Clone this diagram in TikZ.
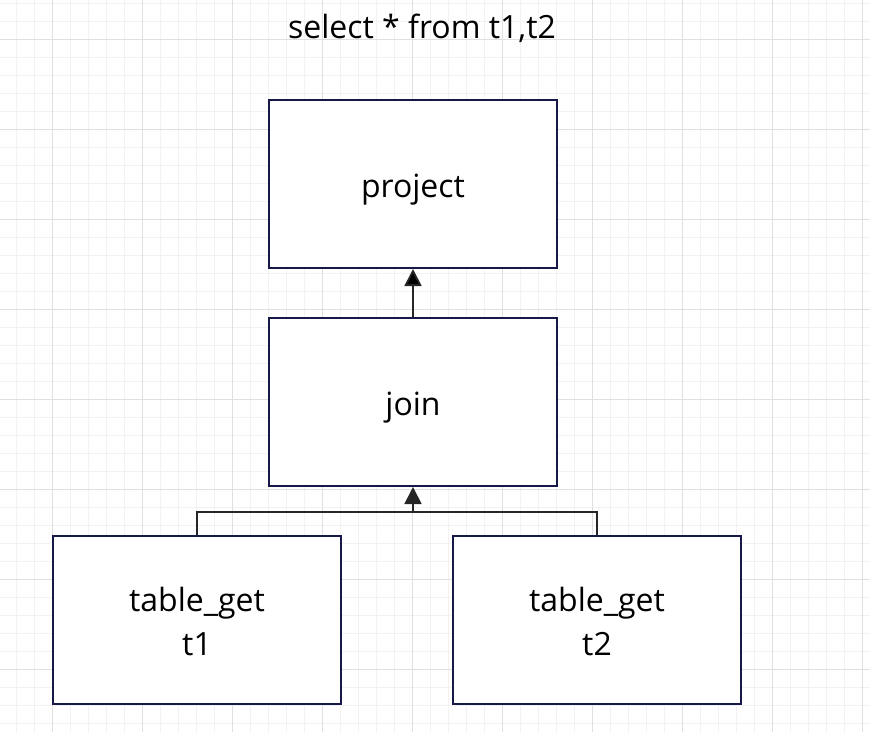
\documentclass[tikz,border=0pt]{standalone}
\usepackage{fontspec}
\setmainfont{Open Sans}
\usepackage{tikz}
\usetikzlibrary{arrows, arrows.meta}
\definecolor{boxline}{RGB}{22,24,72}
\definecolor{gridminor}{RGB}{242,242,242}
\definecolor{gridmajor}{RGB}{224,224,224}

\begin{document}
\begin{tikzpicture}[x=1pt, y=-1pt]
\tikzstyle{block}=[rectangle, draw=boxline, line width=2pt, fill=white, minimum width=288pt, minimum height=168pt, inner sep=0pt, align=center, font=\fontsize{32}{44}\selectfont, text height=27pt, text depth=0pt]
\tikzstyle{twoline}=[text height=71pt, text depth=0pt]
\tikzstyle{link}=[line width=1.8pt, draw=black!85]
\useasboundingbox (0,0) rectangle (870,732);
% background grid
\foreach \x in {16,34,...,870} \draw[gridminor, line width=1pt] (\x,0) -- (\x,732);
\foreach \y in {3,21,...,732} \draw[gridminor, line width=1pt] (0,\y) -- (870,\y);
\foreach \x in {52,142,...,870} \draw[gridmajor, line width=1pt] (\x,0) -- (\x,732);
\foreach \y in {39,129,...,732} \draw[gridmajor, line width=1pt] (0,\y) -- (870,\y);

\node[anchor=base, font=\fontsize{32}{44}\selectfont] (title) at (422,38) {select * from t1,t2};
\node[block] (project) at (413,184) {project};
\node[block] (join) at (413,402) {join};
\node[block, twoline] (T1) at (197,620) {table\_get\\t1};
\node[block, twoline] (T2) at (597,620) {table\_get\\t2};
\coordinate (merge) at (413,512);
\path[link, -{Triangle[width=17pt,length=17pt]}] (join) edge (project);
\draw[link] (T1.north) |- (merge) -| (T2.north);
\draw[link, -{Triangle[width=17pt,length=17pt]}] (merge) -- (join.south);

\end{tikzpicture}
\end{document}
